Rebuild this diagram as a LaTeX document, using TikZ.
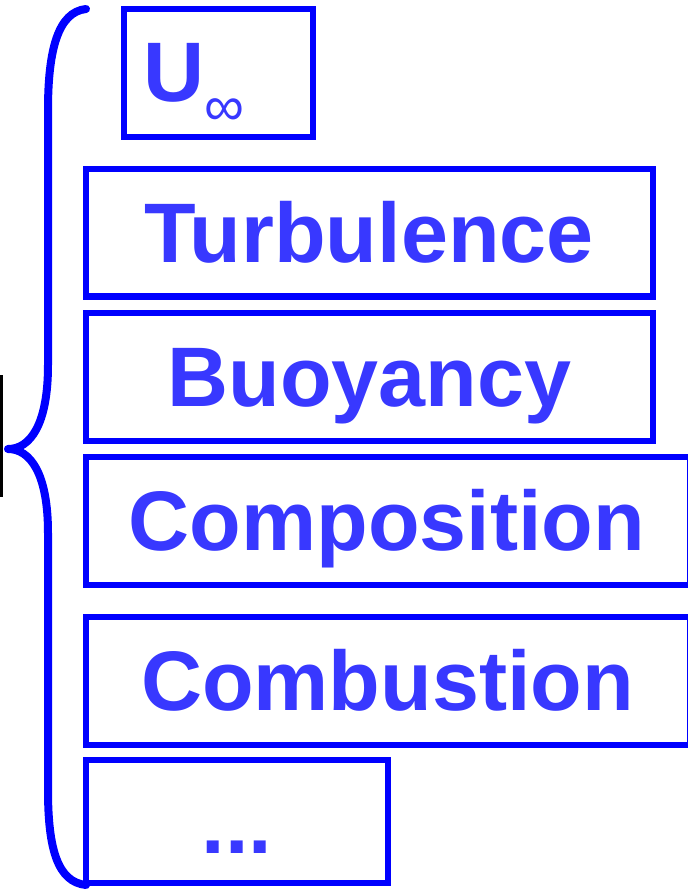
\documentclass[tikz,border=0pt]{standalone}
\usepackage{fontspec}
\setmainfont{Liberation Sans}
\definecolor{boxblue}{RGB}{0,0,255}
\definecolor{txtblue}{RGB}{56,56,255}
\begin{document}
\begin{tikzpicture}[x=1pt,y=-1pt,
  box/.style={draw=boxblue,line width=6.5pt,rectangle,inner sep=0pt,outer sep=0pt},
  lbl/.style={text=txtblue,font=\fontsize{84.5}{84.5}\selectfont\bfseries,inner sep=0pt,outer sep=0pt,anchor=base},
  bracestyle/.style={draw=boxblue,line width=8pt,line cap=round,line join=round}]
\useasboundingbox (0,0) rectangle (687,890);
\node[box,minimum width=189pt,minimum height=128pt] (ubox) at (218.5,73) {};
\node[box,minimum width=567pt,minimum height=127.5pt] (turb) at (369.5,232.75) {};
\node[box,minimum width=567pt,minimum height=128pt] (buoy) at (369.5,377) {};
\node[box,minimum width=604pt,minimum height=128pt] (comp) at (388,521) {};
\node[box,minimum width=604pt,minimum height=128pt] (comb) at (388,681) {};
\node[box,minimum width=302pt,minimum height=123pt] (dbox) at (237,821.5) {};
\node[lbl,anchor=base west] (utxt) at (143,102) {U\raisebox{-24pt}{\fontsize{56}{56}\selectfont\mdseries ∞}};
\node[lbl] (turbt) at (369,262) {Turbulence};
\node[lbl] (buoyt) at (369.5,406) {Buoyancy};
\node[lbl] (compt) at (387,550) {Composition};
\node[lbl] (combt) at (387.5,710) {Combustion};
\node[lbl] (dott) at (237,853) {...};
\coordinate (btop) at (86,9);
\coordinate (btip) at (8,449);
\coordinate (bbot) at (86,885);
\draw[bracestyle] (btop) .. controls (58,12) and (48,50) .. (48,110)
  -- (48,365) .. controls (48,425) and (30,449) .. (btip)
  .. controls (30,449) and (48,473) .. (48,533)
  -- (48,790) .. controls (48,850) and (58,882) .. (bbot);
\draw[black,line width=3pt] (1.5,375) coordinate (bl1) -- (1.5,497) coordinate (bl2);
\end{tikzpicture}
\end{document}
